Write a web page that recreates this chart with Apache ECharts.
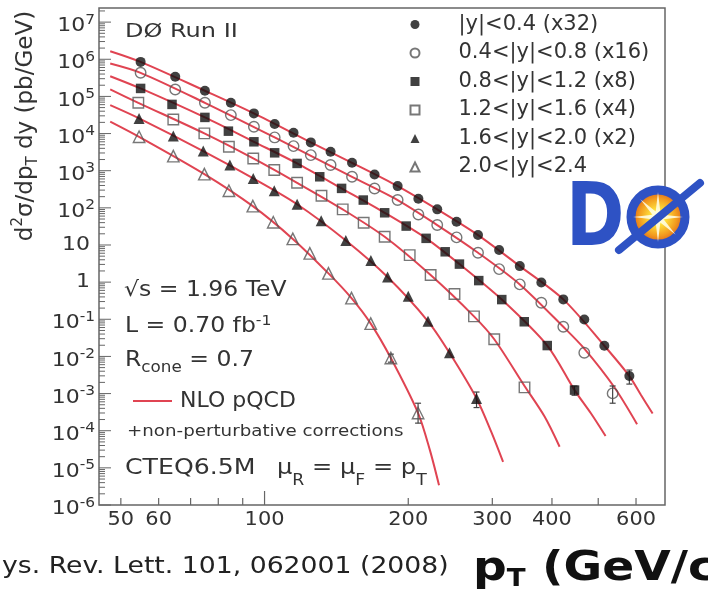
<!DOCTYPE html>
<html>
<head>
<meta charset="utf-8">
<script src="https://cdn.jsdelivr.net/npm/echarts@6/dist/echarts.min.js"></script>
<style>
  html, body { margin: 0; padding: 0; background: #fff; }
  #chart { width: 708px; height: 596px; }
</style>
</head>
<body>
<div id="chart"></div>
<script>
// Inclusive jet cross section d2sigma/dpT dy in six rapidity bins (scaled for display)
const seriesNames = ['|y|<0.4 (x32)', '0.4<|y|<0.8 (x16)', '0.8<|y|<1.2 (x8)',
                     '1.2<|y|<1.6 (x4)', '1.6<|y|<2.0 (x2)', '2.0<|y|<2.4'];

// measured points: jet pT (GeV) and cross section (pb/GeV)
const pt1 = [55, 65, 75, 85, 95, 105, 115, 125, 137.5, 152.5, 170, 190, 210, 230, 252.5, 280, 310, 342.5, 380, 422.5, 467.5, 515, 581];
const xsec1 = [8.5e5, 3.37e5, 1.42e5, 6.73e4, 3.49e4, 1.8e4, 1.05e4, 5.78e3, 3.23e3, 1.63e3, 794, 385, 175, 91, 42, 18.5, 7.3, 2.7, 0.98, 0.343, 0.099, 0.0194, 0.00296];

const pt2 = [55, 65, 75, 85, 95, 105, 115, 125, 137.5, 152.5, 170, 190, 210, 230, 252.5, 280, 310, 342.5, 380, 422.5, 467.5, 536];
const xsec2 = [4.32e5, 1.54e5, 6.73e4, 3.14e4, 1.52e4, 7.87e3, 4.59e3, 2.63e3, 1.42e3, 685, 333, 162, 66.5, 34.4, 16, 6.2, 2.24, 0.87, 0.278, 0.0628, 0.0126, 0.00101];

const pt3 = [55, 64, 75, 84, 95, 105, 117, 130.5, 145, 161, 178.5, 198, 218, 239, 256, 281, 314, 350, 391, 446];
const xsec3 = [1.64e5, 6.09e4, 2.72e4, 1.16e4, 6.0e3, 3.03e3, 1.57e3, 686, 334, 162, 73.6, 32.3, 15.1, 6.56, 3.06, 1.10, 0.339, 0.0857, 0.0196, 0.00124];

const pt4 = [54.4, 64.4, 74.8, 84.2, 94.7, 104.8, 117, 131.6, 145.8, 161.3, 178.5, 201.4, 222.8, 250, 274.6, 302.8, 350.4];
const xsec4 = [6.73e4, 2.40e4, 1.01e4, 4.40e3, 2.14e3, 1.04e3, 472, 211, 90.8, 39.6, 16.6, 5.35, 1.55, 0.477, 0.120, 0.029, 0.00147];

const pt5 = [54.6, 64.4, 74.4, 84.6, 94.7, 104.8, 117, 131.4, 148, 167, 181, 200, 220, 244, 278];
const xsec5 = [2.56e4, 8.54e3, 3.37e3, 1.42e3, 621, 288, 125, 44.8, 13.2, 3.83, 1.37, 0.416, 0.0883, 0.0125, 7.4e-4];

const pt6 = [54.6, 64.4, 74.8, 84.2, 94.5, 104.3, 114.6, 124.4, 136.1, 152.1, 166.9, 183.9, 209.7];
const xsec6 = [8.18e3, 2.47e3, 811, 288, 111, 40.8, 14.6, 5.94, 1.72, 0.372, 0.0766, 0.00904, 2.99e-4];

// NLO pQCD + non-perturbative corrections, one curve per rapidity bin
const nloPt1 = [47.5, 55, 75, 95, 125, 152.5, 190, 230, 280, 342.5, 422.5, 515, 581, 615, 650];
const nlo1 = [1.65e6, 8.5e5, 1.42e5, 3.49e4, 5.78e3, 1.63e3, 385, 91, 18.5, 2.7, 0.343, 0.0194, 0.00296, 9e-4, 2.9e-4];

const nloPt2 = [47.5, 55, 75, 105, 152.5, 190, 230, 280, 342.5, 422.5, 468, 540, 603];
const nlo2 = [7.7e5, 4.32e5, 6.73e4, 7.87e3, 685, 162, 34.4, 6.2, 0.87, 0.0628, 0.016, 1.5e-3, 1.5e-4];

const nloPt3 = [47.5, 55, 75, 95, 117, 145, 178.5, 218, 256, 314, 391, 446, 483, 518];
const nlo3 = [3.5e5, 1.64e5, 2.72e4, 6.0e3, 1.57e3, 334, 73.6, 15.1, 3.06, 0.339, 0.0196, 0.00124, 2.9e-4, 7.2e-5];

const nloPt4 = [47.5, 54.4, 74.8, 94.7, 117, 145.8, 178.5, 222.8, 274.6, 302.8, 350.4, 386, 415];
const nlo4 = [1.54e5, 6.73e4, 1.01e4, 2.14e3, 472, 90.8, 16.6, 1.55, 0.120, 0.029, 0.0016, 2.4e-4, 3.7e-5];

const nloPt5 = [47.5, 54.6, 74.4, 94.7, 117, 148, 181, 220, 244, 278, 298.5, 316];
const nlo5 = [5.8e4, 2.56e4, 3.37e3, 621, 125, 13.2, 1.37, 0.0883, 0.0125, 7.4e-4, 9.3e-5, 1.45e-5];

const nloPt6 = [47.5, 54.6, 74.8, 94.5, 114.6, 136.1, 152.1, 166.9, 183.9, 209.7, 222, 232];
const nlo6 = [2.1e4, 8.18e3, 811, 111, 14.6, 1.72, 0.372, 0.0766, 0.00904, 2.99e-4, 3e-5, 3.4e-6];

// total uncertainty on the highest-pT points
const errPt = [581, 536, 446, 278, 209.7, 183.9];
const errLow = [1.8e-3, 5.5e-4, 9e-4, 4.2e-4, 1.6e-4, 7e-3];
const errHigh = [4.3e-3, 1.6e-3, 1.6e-3, 1.1e-3, 5.5e-4, 1.15e-2];

// axis ticks and labels
const xTickValues = [50, 60, 70, 80, 90, 100, 200, 300, 400, 500, 600];
const xMajorTicks = [100];
const xLabelValues = [50, 60, 100, 200, 300, 400, 600];
const yLabelExponents = [-6, -5, -4, -3, -2, -1, 0, 1, 2, 3, 4, 5, 6, 7];

const X_MIN = 45, X_MAX = 690, Y_MIN = 1e-6, Y_MAX = 2.4e7;
const FONT = 'DejaVu Sans';
const TEXT = '#333';
const CURVE = '#e04452';

const zip = (xs, ys) => xs.map((x, i) => [x, ys[i]]);

const points = [[pt1, xsec1], [pt2, xsec2], [pt3, xsec3], [pt4, xsec4], [pt5, xsec5], [pt6, xsec6]];
const curves = [[nloPt1, nlo1], [nloPt2, nlo2], [nloPt3, nlo3], [nloPt4, nlo4], [nloPt5, nlo5], [nloPt6, nlo6]];

const markerStyles = [
  { symbol: 'circle', size: 10, filled: true },
  { symbol: 'circle', size: 10.5, filled: false },
  { symbol: 'rect', size: 9.5, filled: true },
  { symbol: 'rect', size: 10.5, filled: false },
  { symbol: 'triangle', size: 11, filled: true },
  { symbol: 'triangle', size: 11.5, filled: false }
];

// minor + major tick positions along the log y axis
const yTickValues = [];
for (let e = -6; e <= 7; e++) {
  for (let m = 1; m <= 9; m++) {
    const v = m * Math.pow(10, e);
    if (v <= Y_MAX) yTickValues.push([X_MIN, v, m === 1 ? 1 : 0]);
  }
}

const curveSeries = curves.map(([xs, ys]) => ({
  type: 'line',
  name: 'NLO pQCD',
  data: zip(xs, ys),
  symbol: 'none',
  smooth: 0.3,
  lineStyle: { color: CURVE, width: 2 },
  itemStyle: { color: CURVE },
  silent: true,
  z: 2
}));

const pointSeries = points.map(([xs, ys], i) => {
  const s = markerStyles[i];
  return {
    type: 'scatter',
    name: seriesNames[i],
    data: zip(xs, ys),
    symbol: s.symbol,
    symbolSize: s.size,
    itemStyle: s.filled
      ? { color: '#111' }
      : { color: 'rgba(255,255,255,0)', borderColor: '#555', borderWidth: 1.4 },
    z: 4
  };
});

const errorSeries = {
  type: 'custom',
  data: errPt.map((x, i) => [x, errLow[i], errHigh[i]]),
  encode: { x: 0, y: [1, 2] },
  clip: false,
  silent: true,
  z: 3,
  renderItem: (params, api) => {
    const lo = api.coord([api.value(0), api.value(1)]);
    const hi = api.coord([api.value(0), api.value(2)]);
    const st = { stroke: '#444', lineWidth: 1.2 };
    return {
      type: 'group',
      children: [
        { type: 'line', shape: { x1: lo[0], y1: lo[1], x2: hi[0], y2: hi[1] }, style: st },
        { type: 'line', shape: { x1: lo[0] - 3, y1: lo[1], x2: lo[0] + 3, y2: lo[1] }, style: st },
        { type: 'line', shape: { x1: hi[0] - 3, y1: hi[1], x2: hi[0] + 3, y2: hi[1] }, style: st }
      ]
    };
  }
};

// ticks pointing into the frame, labels below / left of it
const xAxisSeries = {
  type: 'custom',
  data: xTickValues.map(v => [v, Y_MIN]),
  clip: false,
  silent: true,
  z: 5,
  renderItem: (params, api) => {
    const v = api.value(0);
    const p = api.coord([v, Y_MIN]);
    const len = xMajorTicks.includes(v) ? 14 : 7;
    const children = [{
      type: 'line',
      shape: { x1: p[0], y1: p[1], x2: p[0], y2: p[1] - len },
      style: { stroke: '#666', lineWidth: 1.2 }
    }];
    if (xLabelValues.includes(v)) {
      children.push({
        type: 'text', x: p[0], y: p[1] + 15, scaleX: 1.1,
        style: { text: String(v), fontFamily: FONT, fontSize: 19, fill: TEXT, align: 'center', verticalAlign: 'middle' }
      });
    }
    return { type: 'group', children };
  }
};

const yTickSeries = {
  type: 'custom',
  data: yTickValues,
  clip: false,
  silent: true,
  z: 5,
  renderItem: (params, api) => {
    const p = api.coord([X_MIN, api.value(1)]);
    const len = api.value(2) ? 12 : 6;
    return {
      type: 'line',
      shape: { x1: p[0], y1: p[1], x2: p[0] + len, y2: p[1] },
      style: { stroke: '#666', lineWidth: 1 }
    };
  }
};

const yLabelSeries = {
  type: 'custom',
  data: yLabelExponents.map(e => [X_MIN, Math.pow(10, e), e]),
  clip: false,
  silent: true,
  z: 5,
  renderItem: (params, api) => {
    const e = api.value(2);
    const p = api.coord([X_MIN, api.value(1)]);
    if (e === 0 || e === 1) {
      return {
        type: 'text', x: p[0] - 9, y: p[1], scaleX: 1.1,
        style: { text: e === 0 ? '1' : '10', fontFamily: FONT, fontSize: 20, fill: TEXT, align: 'right', verticalAlign: 'middle' }
      };
    }
    return {
      type: 'text', x: p[0] - 4, y: p[1] + 4, scaleX: 1.1,
      style: {
        text: '10{sup|' + e + '}',
        fontFamily: FONT, fontSize: 20, lineHeight: 26, fill: TEXT,
        align: 'right', verticalAlign: 'middle',
        rich: { sup: { fontFamily: FONT, fontSize: 14, lineHeight: 13, verticalAlign: 'top', fill: TEXT } }
      }
    };
  }
};

function label(x, y, text, size, extra) {
  return {
    type: 'text', x, y, scaleX: 1.12,
    style: Object.assign({ text, fontFamily: FONT, fontSize: size, fill: TEXT, align: 'left', verticalAlign: 'middle' }, extra || {})
  };
}

const subStyle = (size, lh, va) => ({ fontFamily: FONT, fontSize: size, lineHeight: lh, verticalAlign: va, fill: TEXT });

// burst of the logo
const starPoints = [];
for (let i = 0; i < 16; i++) {
  const a = i * Math.PI / 8;
  const r = i % 2 ? 6 : 25;
  starPoints.push([658 + r * Math.cos(a), 217 + r * Math.sin(a)]);
}

const graphics = [
  Object.assign(label(125, 32, 'DØ Run II', 20), { scaleX: 1.2 }),
  label(124, 291, '√s = 1.96 TeV', 21),
  label(125, 327, 'L = 0.70 fb{sup|-1}', 21, { lineHeight: 26, rich: { sup: subStyle(14, 14, 'top') } }),
  label(125, 361, 'R{sub|cone} = 0.7', 21, { lineHeight: 30, rich: { sub: subStyle(15, 14, 'bottom') } }),
  Object.assign(label(127, 432, '+non-perturbative corrections', 16), { scaleX: 1.14 }),
  Object.assign(label(125, 469, 'CTEQ6.5M', 21), { scaleX: 1.2 }),
  Object.assign(label(277, 469, 'μ{sub|R} = μ{sub|F} = p{sub|T}', 21, { lineHeight: 40, rich: { sub: subStyle(15, 14, 'bottom') } }), { scaleX: 1.15 }),
  {
    type: 'text', x: 26, y: 126, rotation: Math.PI / 2,
    style: {
      text: 'd{sup|2}σ/dp{sub|T} dy (pb/GeV)',
      fontFamily: FONT, fontSize: 23, lineHeight: 30, fill: TEXT, align: 'center', verticalAlign: 'middle',
      rich: { sup: subStyle(15, 14, 'top'), sub: subStyle(15, 14, 'bottom') }
    }
  },
  {
    type: 'text', x: -31, y: 567, scaleX: 1.16,
    style: { text: 'Phys. Rev. Lett. 101, 062001 (2008)', fontFamily: FONT, fontSize: 23, fill: '#222', align: 'left', verticalAlign: 'middle' }
  },
  {
    type: 'text', x: 473, y: 569, scaleX: 1.15,
    style: {
      text: 'p{sub|T} (GeV/c)', fontFamily: FONT, fontSize: 41, fontWeight: 'bold', lineHeight: 46, fill: '#111',
      align: 'left', verticalAlign: 'middle',
      rich: { sub: { fontFamily: FONT, fontSize: 24, fontWeight: 'bold', lineHeight: 20, verticalAlign: 'bottom', fill: '#111' } }
    }
  },
  // DØ logo
  {
    type: 'group', z: 10,
    children: [
      {
        type: 'text', x: 566, y: 222, scaleX: 0.8,
        style: { text: 'D', fontFamily: FONT, fontWeight: 'bold', fontSize: 88, fill: '#2e52c4', align: 'left', verticalAlign: 'middle' }
      },
      {
        type: 'circle', shape: { cx: 658, cy: 217, r: 27 },
        style: {
          fill: new echarts.graphic.RadialGradient(0.5, 0.5, 0.5, [
            { offset: 0, color: '#fffbe0' },
            { offset: 0.25, color: '#ffe03c' },
            { offset: 0.6, color: '#f29a1e' },
            { offset: 1, color: '#c8361a' }
          ]),
          stroke: '#2e52c4', lineWidth: 9
        }
      },
      { type: 'polygon', shape: { points: starPoints }, style: { fill: 'rgba(255,255,235,0.85)' } },
      { type: 'line', shape: { x1: 619, y1: 250, x2: 700, y2: 183 }, style: { stroke: '#2e52c4', lineWidth: 8, lineCap: 'round' } }
    ]
  }
];

const chart = echarts.init(document.getElementById('chart'));
chart.setOption({
  animation: false,
  backgroundColor: '#fff',
  grid: {
    left: 99, top: 8, right: 43, bottom: 91,
    show: true, borderColor: '#666', borderWidth: 1.5, backgroundColor: 'transparent',
    containLabel: false, outerBoundsMode: 'none'
  },
  xAxis: {
    type: 'log', min: X_MIN, max: X_MAX,
    axisLine: { show: false }, axisTick: { show: false }, axisLabel: { show: false }, splitLine: { show: false }
  },
  yAxis: {
    type: 'log', min: Y_MIN, max: Y_MAX,
    axisLine: { show: false }, axisTick: { show: false }, axisLabel: { show: false }, splitLine: { show: false }
  },
  legend: [
    {
      data: seriesNames,
      orient: 'vertical',
      left: 409.5, top: 14, padding: 0,
      itemWidth: 9, itemHeight: 9, itemGap: 7.5,
      textStyle: { fontFamily: FONT, fontSize: 21, lineHeight: 20, color: TEXT, padding: [0, 0, 0, 34] }
    },
    {
      data: ['NLO pQCD'],
      icon: 'rect',
      left: 133, top: 389, padding: 0,
      itemWidth: 39, itemHeight: 2,
      textStyle: { fontFamily: FONT, fontSize: 22, lineHeight: 24, color: TEXT, padding: [0, 0, 0, 3] }
    }
  ],
  graphic: graphics,
  series: [...curveSeries, ...pointSeries, errorSeries, xAxisSeries, yTickSeries, yLabelSeries]
});
</script>
</body>
</html>
